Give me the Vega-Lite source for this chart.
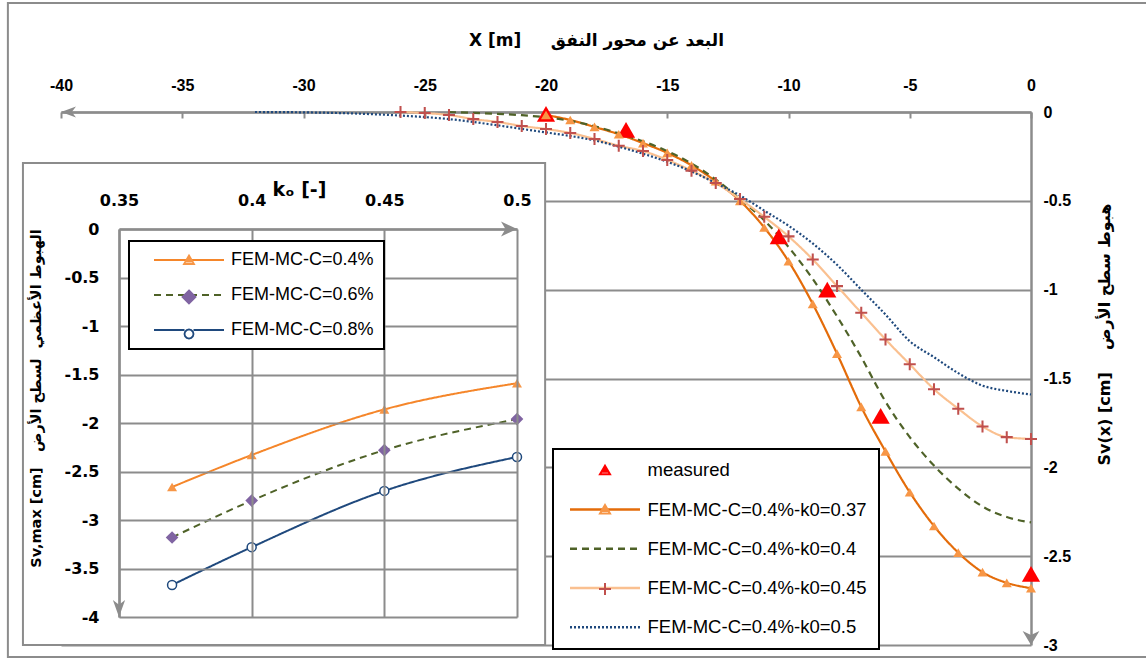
{
"$schema": "https://vega.github.io/schema/vega-lite/v6.json",
"width": 970, "height": 533,
"autosize": {"type": "none"},
"padding": {"left": 61, "top": 112, "right": 115, "bottom": 14},
"background": "white",
"config": {"view": {"stroke": null}, "legend": {"strokeWidth": 2}},
"datasets": {
"main": [
{"s":"measured","x":-20,"y":-0.01},{"s":"measured","x":-16.7,"y":-0.1},{"s":"measured","x":-10.4,"y":-0.7},{"s":"measured","x":-8.4,"y":-1.0},{"s":"measured","x":-6.2,"y":-1.71},{"s":"measured","x":0,"y":-2.6},
{"s":"FEM-MC-C=0.4%-k0=0.37","x":-20,"y":-0.017},{"s":"FEM-MC-C=0.4%-k0=0.37","x":-19,"y":-0.045},{"s":"FEM-MC-C=0.4%-k0=0.37","x":-18,"y":-0.084},{"s":"FEM-MC-C=0.4%-k0=0.37","x":-17,"y":-0.125},{"s":"FEM-MC-C=0.4%-k0=0.37","x":-16,"y":-0.175},{"s":"FEM-MC-C=0.4%-k0=0.37","x":-15,"y":-0.23},{"s":"FEM-MC-C=0.4%-k0=0.37","x":-14,"y":-0.3},{"s":"FEM-MC-C=0.4%-k0=0.37","x":-13,"y":-0.39},{"s":"FEM-MC-C=0.4%-k0=0.37","x":-12,"y":-0.5},{"s":"FEM-MC-C=0.4%-k0=0.37","x":-11,"y":-0.65},{"s":"FEM-MC-C=0.4%-k0=0.37","x":-10,"y":-0.84},{"s":"FEM-MC-C=0.4%-k0=0.37","x":-9,"y":-1.08},{"s":"FEM-MC-C=0.4%-k0=0.37","x":-8,"y":-1.36},{"s":"FEM-MC-C=0.4%-k0=0.37","x":-7,"y":-1.66},{"s":"FEM-MC-C=0.4%-k0=0.37","x":-6,"y":-1.91},{"s":"FEM-MC-C=0.4%-k0=0.37","x":-5,"y":-2.14},{"s":"FEM-MC-C=0.4%-k0=0.37","x":-4,"y":-2.33},{"s":"FEM-MC-C=0.4%-k0=0.37","x":-3,"y":-2.48},{"s":"FEM-MC-C=0.4%-k0=0.37","x":-2,"y":-2.59},{"s":"FEM-MC-C=0.4%-k0=0.37","x":-1,"y":-2.65},{"s":"FEM-MC-C=0.4%-k0=0.37","x":0,"y":-2.68},
{"s":"FEM-MC-C=0.4%-k0=0.4","x":-24,"y":0},{"s":"FEM-MC-C=0.4%-k0=0.4","x":-23,"y":-0.005},{"s":"FEM-MC-C=0.4%-k0=0.4","x":-22,"y":-0.01},{"s":"FEM-MC-C=0.4%-k0=0.4","x":-21,"y":-0.018},{"s":"FEM-MC-C=0.4%-k0=0.4","x":-20,"y":-0.03},{"s":"FEM-MC-C=0.4%-k0=0.4","x":-19,"y":-0.05},{"s":"FEM-MC-C=0.4%-k0=0.4","x":-18,"y":-0.08},{"s":"FEM-MC-C=0.4%-k0=0.4","x":-17,"y":-0.12},{"s":"FEM-MC-C=0.4%-k0=0.4","x":-16,"y":-0.165},{"s":"FEM-MC-C=0.4%-k0=0.4","x":-15,"y":-0.22},{"s":"FEM-MC-C=0.4%-k0=0.4","x":-14,"y":-0.29},{"s":"FEM-MC-C=0.4%-k0=0.4","x":-13,"y":-0.38},{"s":"FEM-MC-C=0.4%-k0=0.4","x":-12,"y":-0.49},{"s":"FEM-MC-C=0.4%-k0=0.4","x":-11,"y":-0.61},{"s":"FEM-MC-C=0.4%-k0=0.4","x":-10,"y":-0.76},{"s":"FEM-MC-C=0.4%-k0=0.4","x":-9,"y":-0.94},{"s":"FEM-MC-C=0.4%-k0=0.4","x":-8,"y":-1.15},{"s":"FEM-MC-C=0.4%-k0=0.4","x":-7,"y":-1.38},{"s":"FEM-MC-C=0.4%-k0=0.4","x":-6,"y":-1.63},{"s":"FEM-MC-C=0.4%-k0=0.4","x":-5,"y":-1.83},{"s":"FEM-MC-C=0.4%-k0=0.4","x":-4,"y":-1.99},{"s":"FEM-MC-C=0.4%-k0=0.4","x":-3,"y":-2.12},{"s":"FEM-MC-C=0.4%-k0=0.4","x":-2,"y":-2.22},{"s":"FEM-MC-C=0.4%-k0=0.4","x":-1,"y":-2.28},{"s":"FEM-MC-C=0.4%-k0=0.4","x":0,"y":-2.31},
{"s":"FEM-MC-C=0.4%-k0=0.45","x":-26,"y":0},{"s":"FEM-MC-C=0.4%-k0=0.45","x":-25,"y":-0.006},{"s":"FEM-MC-C=0.4%-k0=0.45","x":-24,"y":-0.017},{"s":"FEM-MC-C=0.4%-k0=0.45","x":-23,"y":-0.04},{"s":"FEM-MC-C=0.4%-k0=0.45","x":-22,"y":-0.056},{"s":"FEM-MC-C=0.4%-k0=0.45","x":-21,"y":-0.079},{"s":"FEM-MC-C=0.4%-k0=0.45","x":-20,"y":-0.096},{"s":"FEM-MC-C=0.4%-k0=0.45","x":-19,"y":-0.118},{"s":"FEM-MC-C=0.4%-k0=0.45","x":-18,"y":-0.152},{"s":"FEM-MC-C=0.4%-k0=0.45","x":-17,"y":-0.19},{"s":"FEM-MC-C=0.4%-k0=0.45","x":-16,"y":-0.22},{"s":"FEM-MC-C=0.4%-k0=0.45","x":-15,"y":-0.27},{"s":"FEM-MC-C=0.4%-k0=0.45","x":-14,"y":-0.33},{"s":"FEM-MC-C=0.4%-k0=0.45","x":-13,"y":-0.4},{"s":"FEM-MC-C=0.4%-k0=0.45","x":-12,"y":-0.49},{"s":"FEM-MC-C=0.4%-k0=0.45","x":-11,"y":-0.59},{"s":"FEM-MC-C=0.4%-k0=0.45","x":-10,"y":-0.7},{"s":"FEM-MC-C=0.4%-k0=0.45","x":-9,"y":-0.83},{"s":"FEM-MC-C=0.4%-k0=0.45","x":-8,"y":-0.98},{"s":"FEM-MC-C=0.4%-k0=0.45","x":-7,"y":-1.13},{"s":"FEM-MC-C=0.4%-k0=0.45","x":-6,"y":-1.28},{"s":"FEM-MC-C=0.4%-k0=0.45","x":-5,"y":-1.42},{"s":"FEM-MC-C=0.4%-k0=0.45","x":-4,"y":-1.56},{"s":"FEM-MC-C=0.4%-k0=0.45","x":-3,"y":-1.67},{"s":"FEM-MC-C=0.4%-k0=0.45","x":-2,"y":-1.77},{"s":"FEM-MC-C=0.4%-k0=0.45","x":-1,"y":-1.83},{"s":"FEM-MC-C=0.4%-k0=0.45","x":0,"y":-1.84},
{"s":"FEM-MC-C=0.4%-k0=0.5","x":-32,"y":0},{"s":"FEM-MC-C=0.4%-k0=0.5","x":-30,"y":-0.002},{"s":"FEM-MC-C=0.4%-k0=0.5","x":-28,"y":-0.008},{"s":"FEM-MC-C=0.4%-k0=0.5","x":-26,"y":-0.02},{"s":"FEM-MC-C=0.4%-k0=0.5","x":-24,"y":-0.04},{"s":"FEM-MC-C=0.4%-k0=0.5","x":-22,"y":-0.075},{"s":"FEM-MC-C=0.4%-k0=0.5","x":-21,"y":-0.095},{"s":"FEM-MC-C=0.4%-k0=0.5","x":-20,"y":-0.115},{"s":"FEM-MC-C=0.4%-k0=0.5","x":-19,"y":-0.135},{"s":"FEM-MC-C=0.4%-k0=0.5","x":-18,"y":-0.16},{"s":"FEM-MC-C=0.4%-k0=0.5","x":-17,"y":-0.195},{"s":"FEM-MC-C=0.4%-k0=0.5","x":-16,"y":-0.235},{"s":"FEM-MC-C=0.4%-k0=0.5","x":-15,"y":-0.28},{"s":"FEM-MC-C=0.4%-k0=0.5","x":-14,"y":-0.335},{"s":"FEM-MC-C=0.4%-k0=0.5","x":-13,"y":-0.4},{"s":"FEM-MC-C=0.4%-k0=0.5","x":-12,"y":-0.47},{"s":"FEM-MC-C=0.4%-k0=0.5","x":-11,"y":-0.555},{"s":"FEM-MC-C=0.4%-k0=0.5","x":-10,"y":-0.64},{"s":"FEM-MC-C=0.4%-k0=0.5","x":-9,"y":-0.74},{"s":"FEM-MC-C=0.4%-k0=0.5","x":-8,"y":-0.86},{"s":"FEM-MC-C=0.4%-k0=0.5","x":-7,"y":-1.0},{"s":"FEM-MC-C=0.4%-k0=0.5","x":-6,"y":-1.14},{"s":"FEM-MC-C=0.4%-k0=0.5","x":-5,"y":-1.29},{"s":"FEM-MC-C=0.4%-k0=0.5","x":-4,"y":-1.38},{"s":"FEM-MC-C=0.4%-k0=0.5","x":-3,"y":-1.47},{"s":"FEM-MC-C=0.4%-k0=0.5","x":-2,"y":-1.54},{"s":"FEM-MC-C=0.4%-k0=0.5","x":-1,"y":-1.57},{"s":"FEM-MC-C=0.4%-k0=0.5","x":0,"y":-1.59}
],
"inset": [
{"s":"FEM-MC-C=0.4%","k":0.37,"v":-2.66},{"s":"FEM-MC-C=0.4%","k":0.4,"v":-2.33},{"s":"FEM-MC-C=0.4%","k":0.45,"v":-1.86},{"s":"FEM-MC-C=0.4%","k":0.5,"v":-1.59},
{"s":"FEM-MC-C=0.6%","k":0.37,"v":-3.18},{"s":"FEM-MC-C=0.6%","k":0.4,"v":-2.8},{"s":"FEM-MC-C=0.6%","k":0.45,"v":-2.28},{"s":"FEM-MC-C=0.6%","k":0.5,"v":-1.96},
{"s":"FEM-MC-C=0.8%","k":0.37,"v":-3.67},{"s":"FEM-MC-C=0.8%","k":0.4,"v":-3.28},{"s":"FEM-MC-C=0.8%","k":0.45,"v":-2.7},{"s":"FEM-MC-C=0.8%","k":0.5,"v":-2.35}
]
},
"layer": [
{
"layer": [
{
"data": {"values": [{}]},
"mark": {"type": "rect", "fill": "transparent", "stroke": "#8c8c8c", "strokeWidth": 2},
"encoding": {
"x": {"datum": -42.19, "type": "quantitative", "scale": {"domain": [-40, 0], "nice": false, "zero": false},
"axis": {"orient": "top", "values": [-40,-35,-30,-25,-20,-15,-10,-5,0], "grid": false, "domainColor": "#8c8c8c", "domainWidth": 2.5, "ticks": true, "tickColor": "#8c8c8c", "tickWidth": 2, "tickSize": -6, "labelPadding": 25, "labelFlush": false, "labelOverlap": false, "labelExpr": "'' + datum.value", "labelFont": "Liberation Sans", "labelFontSize": 16, "labelFontWeight": "bold", "labelColor": "black", "title": "X [m]\u00a0\u00a0\u00a0\u00a0\u00a0البعد عن محور النفق", "titleFont": "DejaVu Sans", "titleFontSize": 17, "titleFontWeight": "bold", "titleColor": "black", "titleX": 535, "titleY": -67, "titleAlign": "center", "titleBaseline": "alphabetic", "titleAngle": 0}},
"x2": {"datum": 4.9},
"y": {"datum": 0.6135, "type": "quantitative", "scale": {"domain": [-3, 0], "nice": false, "zero": false},
"axis": {"orient": "right", "values": [0,-0.5,-1,-1.5,-2,-2.5,-3], "grid": true, "gridColor": "#8c8c8c", "gridWidth": 2, "domainColor": "#8c8c8c", "domainWidth": 2.5, "ticks": false, "labelPadding": 12, "labelFlush": false, "labelOverlap": false, "labelExpr": "'' + datum.value", "labelFont": "Liberation Sans", "labelFontSize": 16, "labelFontWeight": "bold", "labelColor": "black", "title": "Sv(x) [cm]\u00a0\u00a0\u00a0\u00a0هبوط سطح الأرض", "titleFont": "DejaVu Sans", "titleFontSize": 16, "titleFontWeight": "bold", "titleColor": "black", "titleAngle": 270, "titleX": 73, "titleY": 222, "titleAlign": "center", "titleBaseline": "middle"}},
"y2": {"datum": -3.0675}
}
},
{
"data": {"name": "main"},
"transform": [{"filter": "datum.s !== 'measured'"}],
"mark": {"type": "line", "interpolate": "monotone", "strokeWidth": 2.2},
"encoding": {
"x": {"field": "x", "type": "quantitative", "scale": {"domain": [-40, 0], "nice": false, "zero": false}},
"y": {"field": "y", "type": "quantitative", "scale": {"domain": [-3, 0], "nice": false, "zero": false}},
"stroke": {"field": "s", "type": "nominal", "scale": {"domain": ["measured","FEM-MC-C=0.4%-k0=0.37","FEM-MC-C=0.4%-k0=0.4","FEM-MC-C=0.4%-k0=0.45","FEM-MC-C=0.4%-k0=0.5"], "range": ["transparent","#E46C0A","#4F6228","#FAC090","#1F497D"]}, "legend": null},
"strokeDash": {"field": "s", "type": "nominal", "scale": {"domain": ["measured","FEM-MC-C=0.4%-k0=0.37","FEM-MC-C=0.4%-k0=0.4","FEM-MC-C=0.4%-k0=0.45","FEM-MC-C=0.4%-k0=0.5"], "range": [[1,0],[1,0],[7,5],[1,0],[2,2]]}, "legend": null}
}
},
{
"data": {"name": "main"},
"transform": [{"filter": "datum.s === 'measured' || datum.s === 'FEM-MC-C=0.4%-k0=0.37' || datum.s === 'FEM-MC-C=0.4%-k0=0.45'"}],
"mark": {"type": "point", "filled": true, "opacity": 1, "strokeWidth": 0},
"encoding": {
"x": {"field": "x", "type": "quantitative", "scale": {"domain": [-40, 0], "nice": false, "zero": false}},
"y": {"field": "y", "type": "quantitative", "scale": {"domain": [-3, 0], "nice": false, "zero": false}},
"color": {"field": "s", "type": "nominal", "scale": {"domain": ["measured","FEM-MC-C=0.4%-k0=0.37","FEM-MC-C=0.4%-k0=0.4","FEM-MC-C=0.4%-k0=0.45","FEM-MC-C=0.4%-k0=0.5"], "range": ["#FF0000","#F79646","transparent","#C0504D","transparent"]}, "legend": null},
"shape": {"field": "s", "type": "nominal", "scale": {"domain": ["measured","FEM-MC-C=0.4%-k0=0.37","FEM-MC-C=0.4%-k0=0.4","FEM-MC-C=0.4%-k0=0.45","FEM-MC-C=0.4%-k0=0.5"], "range": ["triangle-up","triangle-up","circle","M-1,-0.17H-0.17V-1H0.17V-0.17H1V0.17H0.17V1H-0.17V0.17H-1Z","circle"]}, "legend": null},
"size": {"field": "s", "type": "nominal", "scale": {"type": "ordinal", "domain": ["measured","FEM-MC-C=0.4%-k0=0.37","FEM-MC-C=0.4%-k0=0.4","FEM-MC-C=0.4%-k0=0.45","FEM-MC-C=0.4%-k0=0.5"], "range": [330,100,10,144,10]}, "legend": null}
}
},
{
"data": {"name": "main"},
"transform": [{"aggregate": [{"op": "max", "field": "x", "as": "x"}, {"op": "max", "field": "y", "as": "y"}], "groupby": ["s"]}],
"mark": {"type": "point", "filled": false, "opacity": 0, "strokeWidth": 2.5},
"encoding": {
"x": {"field": "x", "type": "quantitative", "scale": {"domain": [-40, 0], "nice": false, "zero": false}},
"y": {"field": "y", "type": "quantitative", "scale": {"domain": [-3, 0], "nice": false, "zero": false}},
"stroke": {"field": "s", "type": "nominal", "scale": {"domain": ["measured","FEM-MC-C=0.4%-k0=0.37","FEM-MC-C=0.4%-k0=0.4","FEM-MC-C=0.4%-k0=0.45","FEM-MC-C=0.4%-k0=0.5"], "range": ["transparent","#E46C0A","#4F6228","#FAC090","#1F497D"]},
"legend": {"orient": "none", "legendX": 492, "legendY": 337, "title": null, "symbolSize": 100, "symbolStrokeWidth": 2.5, "symbolOpacity": 1, "symbolOffset": 30.75, "labelFont": "Liberation Sans", "labelFontSize": 18.5, "labelColor": "black", "labelOffset": 33.25, "labelLimit": 500, "rowPadding": 20.25, "padding": 12, "strokeColor": "black", "fillColor": "white"}},
"shape": {"field": "s", "type": "nominal", "scale": {"domain": ["measured","FEM-MC-C=0.4%-k0=0.37","FEM-MC-C=0.4%-k0=0.4","FEM-MC-C=0.4%-k0=0.45","FEM-MC-C=0.4%-k0=0.5"], "range": ["M0,0","M-7,0H7","M-7,0H7","M-7,0H7","M-7,0H7"]}},
"strokeDash": {"field": "s", "type": "nominal", "scale": {"domain": ["measured","FEM-MC-C=0.4%-k0=0.37","FEM-MC-C=0.4%-k0=0.4","FEM-MC-C=0.4%-k0=0.45","FEM-MC-C=0.4%-k0=0.5"], "range": [[1,0],[1,0],[7,5],[1,0],[2,2]]}}
}
},
{
"data": {"name": "main"},
"transform": [{"aggregate": [{"op": "min", "field": "x", "as": "x"}, {"op": "min", "field": "y", "as": "y"}], "groupby": ["s"]}],
"mark": {"type": "point", "filled": false, "opacity": 0, "strokeWidth": 2},
"encoding": {
"x": {"field": "x", "type": "quantitative", "scale": {"domain": [-40, 0], "nice": false, "zero": false}},
"y": {"field": "y", "type": "quantitative", "scale": {"domain": [-3, 0], "nice": false, "zero": false}},
"stroke": {"field": "s", "type": "nominal", "scale": {"domain": ["measured","FEM-MC-C=0.4%-k0=0.37","FEM-MC-C=0.4%-k0=0.4","FEM-MC-C=0.4%-k0=0.45","FEM-MC-C=0.4%-k0=0.5"], "range": ["#FF0000","#F79646","transparent","#C0504D","transparent"]},
"legend": {"orient": "none", "legendX": 492, "legendY": 337, "title": null, "symbolSize": 100, "symbolStrokeWidth": 2, "symbolOpacity": 1, "symbolOffset": 30.75, "labelFont": "Liberation Sans", "labelFontSize": 18.5, "labelOpacity": 0, "labelExpr": "'\u00a0'", "labelLimit": 500, "rowPadding": 20.25, "padding": 12, "zindex": 1}},
"shape": {"field": "s", "type": "nominal", "scale": {"domain": ["measured","FEM-MC-C=0.4%-k0=0.37","FEM-MC-C=0.4%-k0=0.4","FEM-MC-C=0.4%-k0=0.45","FEM-MC-C=0.4%-k0=0.5"], "range": ["M0,-0.9L1,0.8L-1,0.8ZM-0.2,-0.5H0.2M-0.45,-0.1H0.45M-0.68,0.3H0.68","M0,-0.9L1,0.8L-1,0.8ZM-0.2,-0.5H0.2M-0.45,-0.1H0.45M-0.68,0.3H0.68","M0,0","M-1.2,0H1.2M0,-1.2V1.2","M0,0"]}}
}
},
{
"data": {"values": [{}]},
"mark": {"type": "point", "shape": "M0,0L1,-0.36L0.72,0L1,0.36Z", "filled": true, "opacity": 1, "color": "#8c8c8c", "size": 900},
"encoding": {
"x": {"datum": -40, "type": "quantitative", "scale": {"domain": [-40, 0], "nice": false, "zero": false}},
"y": {"datum": 0, "type": "quantitative", "scale": {"domain": [-3, 0], "nice": false, "zero": false}}
}
},
{
"data": {"values": [{}]},
"mark": {"type": "point", "shape": "M0,0L-0.6,-1L0,-0.72L0.6,-1Z", "filled": true, "opacity": 1, "color": "#8c8c8c", "size": 784},
"encoding": {
"x": {"datum": 0, "type": "quantitative", "scale": {"domain": [-40, 0], "nice": false, "zero": false}},
"y": {"datum": -3, "type": "quantitative", "scale": {"domain": [-3, 0], "nice": false, "zero": false}}
}
}
],
"resolve": {"scale": {"color": "independent", "stroke": "independent", "strokeDash": "independent", "fill": "independent", "shape": "independent", "size": "independent"}}
},
{
"layer": [
{
"data": {"values": [{}]},
"mark": {"type": "rect", "fill": "white", "stroke": "#8c8c8c", "strokeWidth": 2},
"encoding": {
"x": {"datum": 0.3138, "type": "quantitative", "scale": {"domain": [0.35, 0.5], "range": [58, 456], "nice": false, "zero": false},
"axis": {"orient": "top", "offset": -117, "values": [0.35,0.4,0.45,0.5], "grid": true, "gridColor": "#8c8c8c", "gridWidth": 2, "domainColor": "#8c8c8c", "domainWidth": 2.5, "ticks": false, "labelPadding": 21, "labelFlush": false, "labelOverlap": false, "labelExpr": "'' + datum.value", "labelFont": "DejaVu Sans", "labelFontSize": 16, "labelFontWeight": "bold", "labelColor": "black", "title": "kₒ [-]", "titleFont": "DejaVu Sans", "titleFontSize": 19, "titleFontWeight": "bold", "titleColor": "black", "titleX": 238, "titleY": -34, "titleAlign": "center", "titleBaseline": "alphabetic", "titleAngle": 0, "zindex": 1}},
"x2": {"datum": 0.5106},
"y": {"datum": 0.68, "type": "quantitative", "scale": {"domain": [-4, 0], "range": [505, 117], "nice": false, "zero": false},
"axis": {"orient": "left", "offset": -58, "values": [0,-0.5,-1,-1.5,-2,-2.5,-3,-3.5,-4], "grid": true, "gridColor": "#8c8c8c", "gridWidth": 2, "domainColor": "#8c8c8c", "domainWidth": 2.5, "ticks": false, "labelPadding": 20, "labelFlush": false, "labelOverlap": false, "labelExpr": "'' + datum.value", "labelFont": "DejaVu Sans", "labelFontSize": 16, "labelFontWeight": "bold", "labelColor": "black", "title": "Sv,max [cm]\u00a0\u00a0\u00a0الهبوط الأعظمي \u00a0لسطح الأرض", "titleFont": "DejaVu Sans", "titleFontSize": 14.5, "titleFontWeight": "bold", "titleColor": "black", "titleAngle": 270, "titleX": -83, "titleY": 286, "titleAlign": "center", "titleBaseline": "middle", "zindex": 1}},
"y2": {"datum": -4.289}
}
},
{
"data": {"values": [{}]},
"mark": {"type": "point", "shape": "M0,0L-1,-0.47L-0.72,0L-1,0.47Z", "filled": true, "opacity": 1, "color": "#8c8c8c", "size": 1024},
"encoding": {
"x": {"datum": 0.5, "type": "quantitative", "scale": {"domain": [0.35, 0.5], "range": [58, 456], "nice": false, "zero": false}},
"y": {"datum": 0, "type": "quantitative", "scale": {"domain": [-4, 0], "range": [505, 117], "nice": false, "zero": false}}
}
},
{
"data": {"values": [{}]},
"mark": {"type": "point", "shape": "M0,0L-0.36,-1L0,-0.72L0.36,-1Z", "filled": true, "opacity": 1, "color": "#8c8c8c", "size": 1156},
"encoding": {
"x": {"datum": 0.35, "type": "quantitative", "scale": {"domain": [0.35, 0.5], "range": [58, 456], "nice": false, "zero": false}},
"y": {"datum": -4, "type": "quantitative", "scale": {"domain": [-4, 0], "range": [505, 117], "nice": false, "zero": false}}
}
},
{
"data": {"name": "inset"},
"mark": {"type": "line", "interpolate": "monotone", "strokeWidth": 2},
"encoding": {
"x": {"field": "k", "type": "quantitative", "scale": {"domain": [0.35, 0.5], "range": [58, 456], "nice": false, "zero": false}},
"y": {"field": "v", "type": "quantitative", "scale": {"domain": [-4, 0], "range": [505, 117], "nice": false, "zero": false}},
"stroke": {"field": "s", "type": "nominal", "scale": {"domain": ["FEM-MC-C=0.4%","FEM-MC-C=0.6%","FEM-MC-C=0.8%"], "range": ["#F5862A","#4F6228","#1F497D"]}, "legend": null},
"strokeDash": {"field": "s", "type": "nominal", "scale": {"domain": ["FEM-MC-C=0.4%","FEM-MC-C=0.6%","FEM-MC-C=0.8%"], "range": [[1,0],[7,5],[1,0]]}, "legend": null}
}
},
{
"data": {"name": "inset"},
"mark": {"type": "point", "filled": true, "opacity": 1, "strokeWidth": 1.5},
"encoding": {
"x": {"field": "k", "type": "quantitative", "scale": {"domain": [0.35, 0.5], "range": [58, 456], "nice": false, "zero": false}},
"y": {"field": "v", "type": "quantitative", "scale": {"domain": [-4, 0], "range": [505, 117], "nice": false, "zero": false}},
"color": {"field": "s", "type": "nominal", "scale": {"domain": ["FEM-MC-C=0.4%","FEM-MC-C=0.6%","FEM-MC-C=0.8%"], "range": ["#F79646","#8064A2","white"]}, "legend": null},
"stroke": {"field": "s", "type": "nominal", "scale": {"domain": ["FEM-MC-C=0.4%","FEM-MC-C=0.6%","FEM-MC-C=0.8%"], "range": ["transparent","transparent","#1F497D"]}, "legend": null},
"shape": {"field": "s", "type": "nominal", "scale": {"domain": ["FEM-MC-C=0.4%","FEM-MC-C=0.6%","FEM-MC-C=0.8%"], "range": ["triangle-up","diamond","circle"]}, "legend": null},
"size": {"field": "s", "type": "nominal", "scale": {"type": "ordinal", "domain": ["FEM-MC-C=0.4%","FEM-MC-C=0.6%","FEM-MC-C=0.8%"], "range": [100,160,81]}, "legend": null}
}
},
{
"data": {"name": "inset"},
"transform": [{"aggregate": [{"op": "max", "field": "k", "as": "k"}, {"op": "max", "field": "v", "as": "v"}], "groupby": ["s"]}],
"mark": {"type": "point", "filled": false, "opacity": 0, "strokeWidth": 2.2},
"encoding": {
"x": {"field": "k", "type": "quantitative", "scale": {"domain": [0.35, 0.5], "range": [58, 456], "nice": false, "zero": false}},
"y": {"field": "v", "type": "quantitative", "scale": {"domain": [-4, 0], "range": [505, 117], "nice": false, "zero": false}},
"stroke": {"field": "s", "type": "nominal", "scale": {"domain": ["FEM-MC-C=0.4%","FEM-MC-C=0.6%","FEM-MC-C=0.8%"], "range": ["#F5862A","#4F6228","#1F497D"]},
"legend": {"orient": "none", "legendX": 68, "legendY": 129, "title": null, "symbolSize": 100, "symbolStrokeWidth": 2.2, "symbolOpacity": 1, "symbolOffset": 41, "labelFont": "Liberation Sans", "labelFontSize": 18, "labelColor": "black", "labelOffset": 33, "labelLimit": 500, "rowPadding": 17, "padding": 10, "strokeColor": "black", "fillColor": "white", "zindex": 2}},
"shape": {"field": "s", "type": "nominal", "scale": {"domain": ["FEM-MC-C=0.4%","FEM-MC-C=0.6%","FEM-MC-C=0.8%"], "range": ["M-7,0H7","M-7,0H7","M-7,0H-0.9M0.9,0H7"]}},
"strokeDash": {"field": "s", "type": "nominal", "scale": {"domain": ["FEM-MC-C=0.4%","FEM-MC-C=0.6%","FEM-MC-C=0.8%"], "range": [[1,0],[7,5],[1,0]]}}
}
},
{
"data": {"name": "inset"},
"transform": [{"aggregate": [{"op": "min", "field": "k", "as": "k"}, {"op": "min", "field": "v", "as": "v"}], "groupby": ["s"]}],
"mark": {"type": "point", "filled": false, "opacity": 0, "strokeWidth": 1.8},
"encoding": {
"x": {"field": "k", "type": "quantitative", "scale": {"domain": [0.35, 0.5], "range": [58, 456], "nice": false, "zero": false}},
"y": {"field": "v", "type": "quantitative", "scale": {"domain": [-4, 0], "range": [505, 117], "nice": false, "zero": false}},
"stroke": {"field": "s", "type": "nominal", "scale": {"domain": ["FEM-MC-C=0.4%","FEM-MC-C=0.6%","FEM-MC-C=0.8%"], "range": ["#F79646","#8064A2","#1F497D"]},
"legend": {"orient": "none", "legendX": 68, "legendY": 129, "title": null, "symbolSize": 100, "symbolStrokeWidth": 1.8, "symbolOpacity": 1, "symbolOffset": 41, "labelFont": "Liberation Sans", "labelFontSize": 18, "labelOpacity": 0, "labelExpr": "'\u00a0'", "labelLimit": 500, "rowPadding": 17, "padding": 10, "zindex": 3}},
"shape": {"field": "s", "type": "nominal", "scale": {"domain": ["FEM-MC-C=0.4%","FEM-MC-C=0.6%","FEM-MC-C=0.8%"], "range": ["M0,-0.9L1,0.8L-1,0.8ZM-0.2,-0.5H0.2M-0.45,-0.1H0.45M-0.68,0.3H0.68","M0,-1.3L1.3,0L0,1.3L-1.3,0ZM-0.5,-0.8H0.5M-0.9,-0.4H0.9M-1.3,0H1.3M-0.9,0.4H0.9M-0.5,0.8H0.5","M0.9,0L0.78,0.45L0.45,0.78L0,0.9L-0.45,0.78L-0.78,0.45L-0.9,0L-0.78,-0.45L-0.45,-0.78L0,-0.9L0.45,-0.78L0.78,-0.45Z"]}}
}
}
],
"resolve": {"scale": {"color": "independent", "stroke": "independent", "strokeDash": "independent", "fill": "independent", "shape": "independent", "size": "independent"}}
}
],
"resolve": {"scale": {"x": "independent", "y": "independent"}}
}
